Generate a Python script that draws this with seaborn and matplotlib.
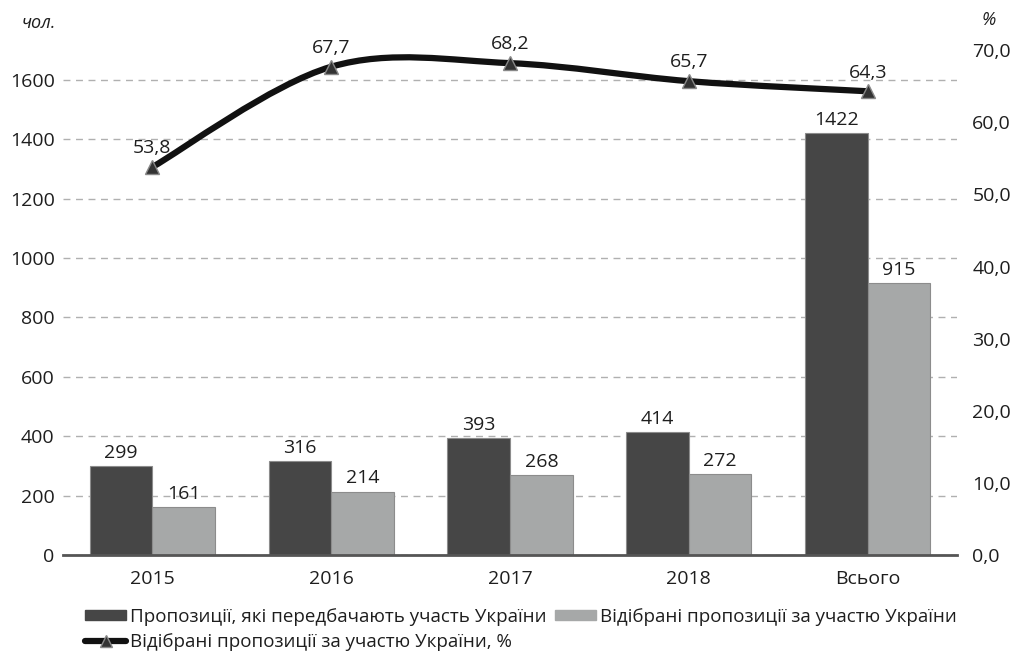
import numpy as np
import pandas as pd
import matplotlib
matplotlib.use("Agg")
import matplotlib.pyplot as plt
import seaborn as sns
from matplotlib.path import Path
from matplotlib.patches import PathPatch, Patch
from matplotlib.lines import Line2D

years = ["2015", "2016", "2017", "2018", "Всього"]
proposals = [299, 316, 393, 414, 1422]
selected = [161, 214, 268, 272, 915]
selected_pct = [53.8, 67.7, 68.2, 65.7, 64.3]

name_prop = "Пропозиції, які передбачають участь України"
name_sel = "Відібрані пропозиції за участю України"
name_pct = "Відібрані пропозиції за участю України, %"

dark = "#464646"
light = "#a6a8a8"
txt = "#1e1e1e"
fs = 14

sns.set_style("white")
plt.rcParams["font.family"] = ["Open Sans", "DejaVu Sans"]
plt.rcParams["font.size"] = fs

df = pd.DataFrame({
    "year": years * 2,
    "value": proposals + selected,
    "series": [name_prop] * len(years) + [name_sel] * len(years),
})

fig = plt.figure(figsize=(10.16, 6.6), dpi=100)
ax = fig.add_axes([0.062, 0.159, 0.88, 0.765])

sns.barplot(data=df, x="year", y="value", hue="series", palette=[dark, light],
            width=0.7, ax=ax, legend=False, edgecolor="#8c8c8c", linewidth=0.8,
            zorder=3)

for cont in ax.containers:
    ax.bar_label(cont, fmt="%d", padding=3, fontsize=fs, color=txt)

ax.set_ylim(0, 1700)
ax.set_yticks(range(0, 1601, 200))
ax.set_xlim(-0.5, len(years) - 0.5)
ax.yaxis.grid(True, linestyle=(0, (5, 4)), color="#b0b0b0", linewidth=1)
ax.set_axisbelow(True)
for s in ["top", "left", "right"]:
    ax.spines[s].set_visible(False)
ax.spines["bottom"].set_color("#555555")
ax.spines["bottom"].set_linewidth(2)
ax.spines["bottom"].set_zorder(5)
ax.set_xlabel("")
ax.set_ylabel("")
ax.tick_params(axis="both", length=0, labelsize=fs, colors=txt)
ax.tick_params(axis="y", pad=6)
ax.tick_params(axis="x", pad=11)

# right axis with smoothed line
ax2 = ax.twinx()
ax2.set_ylim(0, 70)
ax2.set_yticks(range(0, 71, 10))
ax2.set_yticklabels([f"{v:.1f}".replace(".", ",") for v in range(0, 71, 10)])
ax2.tick_params(axis="y", length=0, pad=11, labelsize=fs, colors=txt)
for s in ax2.spines.values():
    s.set_visible(False)

xs = np.arange(len(years), dtype=float)
ys = np.array(selected_pct)
px = np.concatenate([[xs[0]], xs, [xs[-1]]])
py = np.concatenate([[ys[0]], ys, [ys[-1]]])
verts = [(xs[0], ys[0])]
codes = [Path.MOVETO]
for i in range(1, len(xs)):
    c1 = (px[i] + (px[i + 1] - px[i - 1]) / 6, py[i] + (py[i + 1] - py[i - 1]) / 6)
    c2 = (px[i + 1] - (px[i + 2] - px[i]) / 6, py[i + 1] - (py[i + 2] - py[i]) / 6)
    verts += [c1, c2, (px[i + 1], py[i + 1])]
    codes += [Path.CURVE4] * 3
ax2.add_patch(PathPatch(Path(verts, codes), fill=False, edgecolor="#111111",
                        linewidth=4.5, capstyle="butt", zorder=4))
ax2.plot(xs, ys, ls="", marker="^", markersize=10, markerfacecolor="#333333",
         markeredgecolor="#888888", markeredgewidth=1, zorder=5)
for x, y in zip(xs, ys):
    ax2.annotate(f"{y:.1f}".replace(".", ","), (x, y), xytext=(0, 7),
                 textcoords="offset points", ha="center", va="bottom",
                 fontsize=fs, color=txt)

fig.text(0.021, 0.965, "чол.", style="italic", fontsize=13, color=txt,
         ha="left", va="center")
fig.text(0.966, 0.97, "%", style="italic", fontsize=13, color=txt,
         ha="left", va="center")

handles = [
    Patch(facecolor=dark, edgecolor=dark),
    Line2D([], [], color="#111111", linewidth=4.5, marker="^", markersize=8,
           markerfacecolor="#333333", markeredgecolor="#888888"),
    Patch(facecolor=light, edgecolor=light),
]
labels = [name_prop, name_pct, name_sel]
fig.legend(handles, labels, ncol=2, loc="lower left", bbox_to_anchor=(0.067, -0.012),
           frameon=False, fontsize=13.5, handlelength=2.2, handleheight=0.45,
           handletextpad=0.2, columnspacing=0.45, labelspacing=0.4,
           labelcolor=txt)

fig.savefig("out.png", dpi=100)
